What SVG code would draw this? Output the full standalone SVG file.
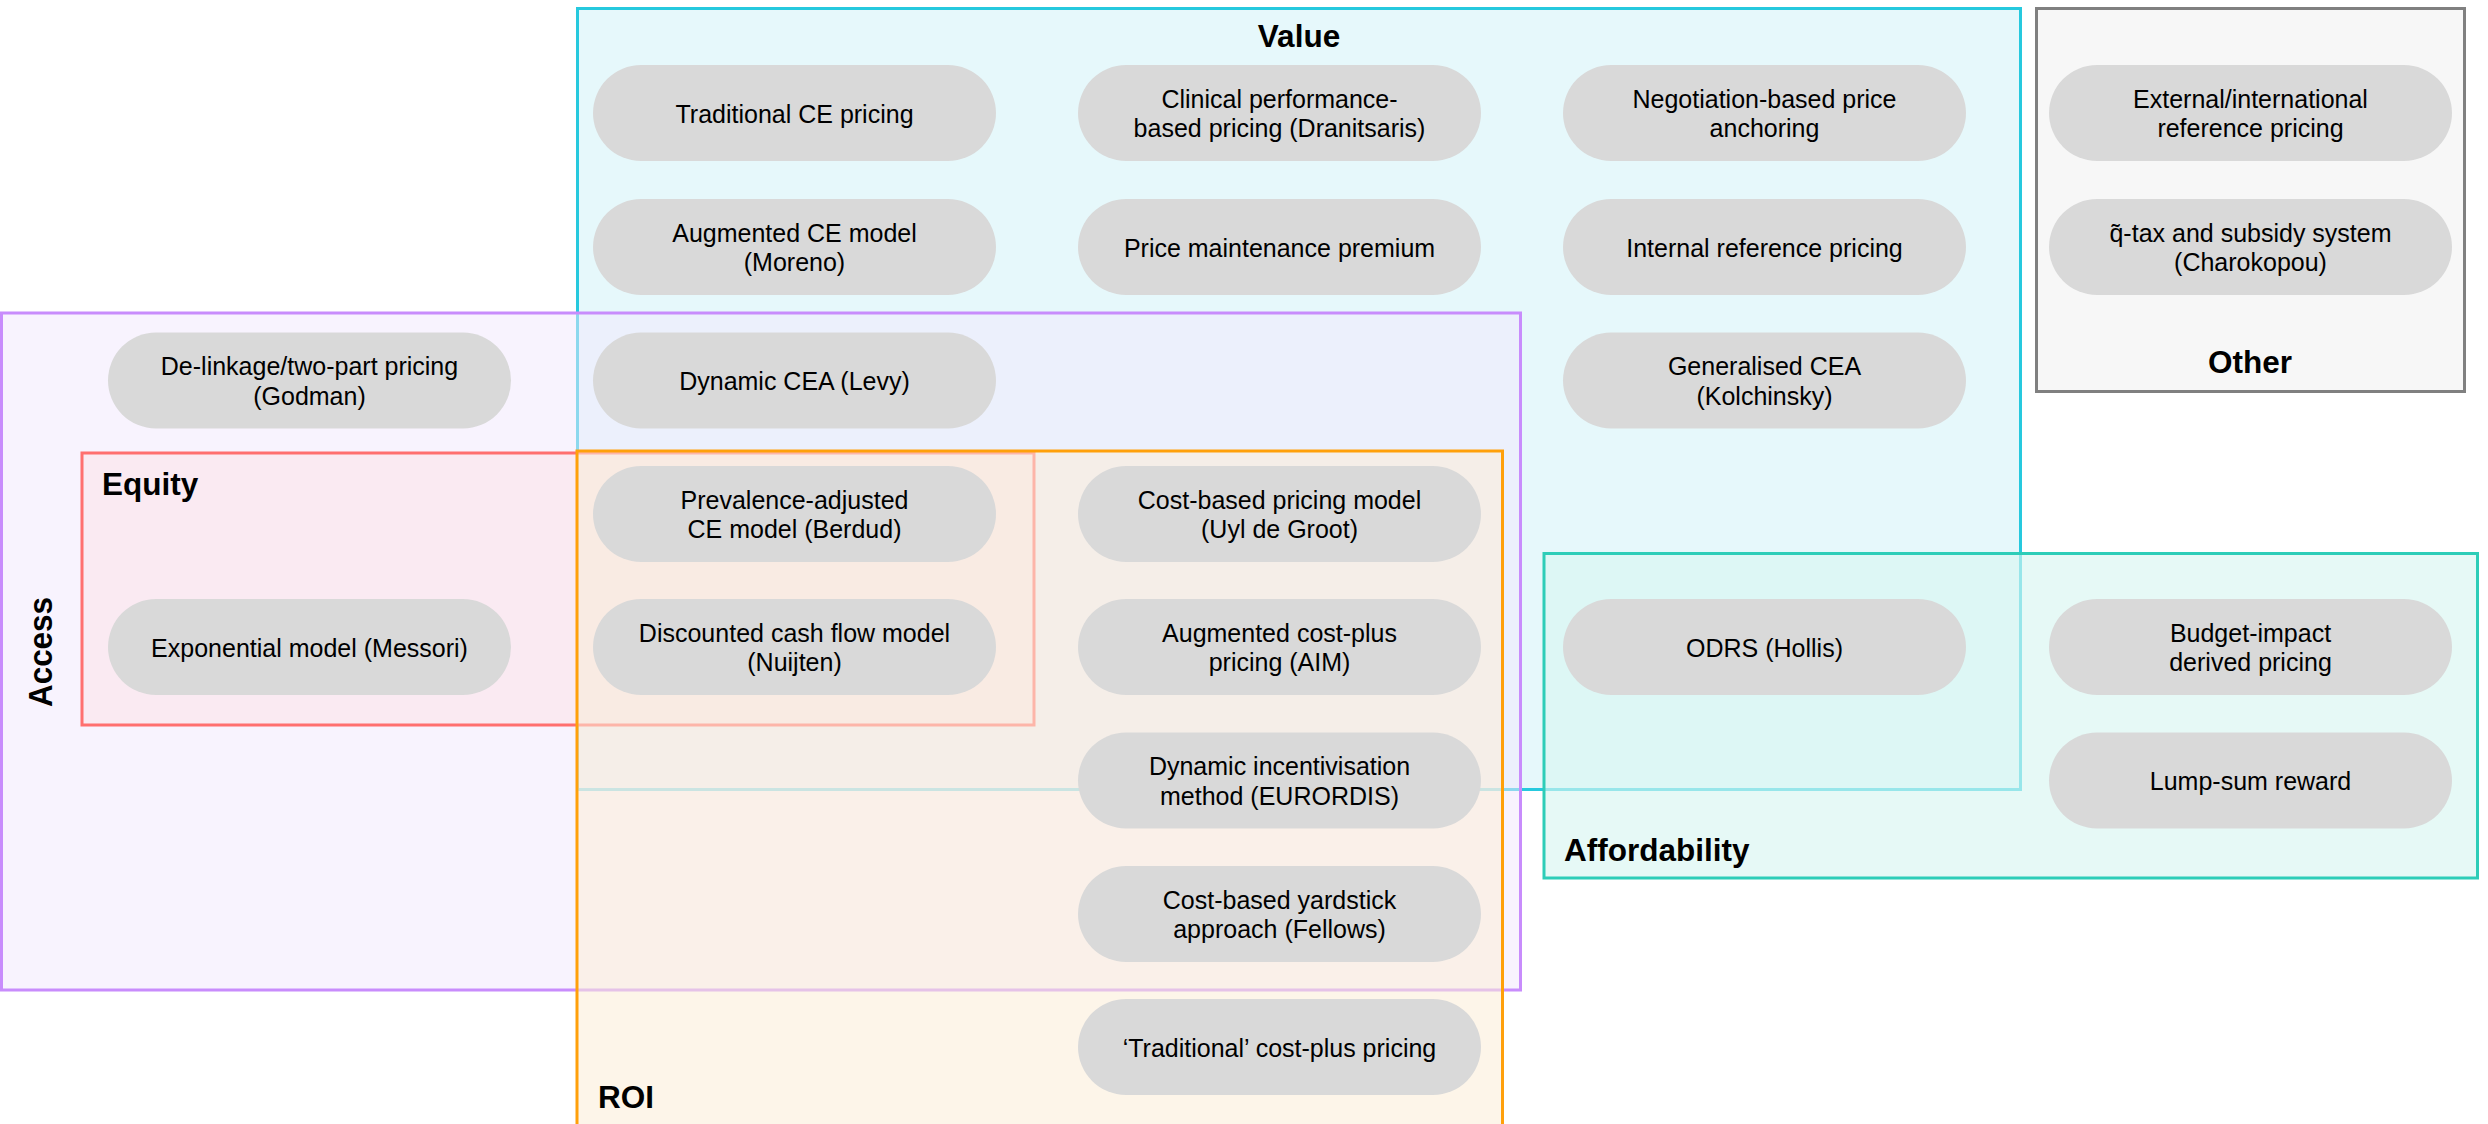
<svg xmlns="http://www.w3.org/2000/svg" width="2488" height="1124" viewBox="0 0 2488 1124">
<style>
.region{stroke-width:3}
.pill rect{fill:#D9D9D9}
.pill text{font-family:"Liberation Sans",Arial,sans-serif;font-size:25px;fill:#000;text-anchor:middle}
.title{font-family:"Liberation Sans",Arial,sans-serif;font-size:31.5px;font-weight:bold;fill:#000}
</style>
<rect x="0" y="0" width="2488" height="1124" fill="#FFFFFF"/>
<g id="regions">
  <g id="region-value">
    <rect class="region" x="577.5" y="8.5" width="1443" height="781" fill="#E6F8FB" stroke="#26C9DE"/>
  </g>
  <g id="region-other">
    <rect class="region" x="2036.5" y="8.5" width="428" height="383" fill="#F7F7F7" stroke="#808080"/>
  </g>
  <g id="region-access">
    <rect class="region" x="1.5" y="313" width="1519" height="677" fill="#F1E7FD" fill-opacity="0.5" stroke="#C88CFC"/>
  </g>
  <g id="region-equity">
    <rect class="region" x="82" y="453" width="952" height="272" fill="#FBE6EC" fill-opacity="0.7" stroke="#FF6F6F"/>
  </g>
  <g id="region-roi">
    <rect class="region" x="577" y="451" width="925.5" height="720" fill="#FCEDD8" fill-opacity="0.56" stroke="#FFA00A"/>
  </g>
  <g id="region-affordability">
    <rect class="region" x="1544" y="553.5" width="933.5" height="324.5" fill="#D8F6F1" fill-opacity="0.64" stroke="#2DCDB8"/>
  </g>
</g>
<g id="labels">
  <text class="title" x="1299" y="47" text-anchor="middle">Value</text>
  <text class="title" x="2250" y="373" text-anchor="middle">Other</text>
  <text class="title" x="102" y="495">Equity</text>
  <text class="title" x="598" y="1108">ROI</text>
  <text class="title" x="1564" y="861">Affordability</text>
  <text class="title" transform="translate(52,652) rotate(-90)" text-anchor="middle" textLength="110" lengthAdjust="spacingAndGlyphs" style="font-size:34px">Access</text>
</g>
<g id="connectors"></g>
<g id="nodes">
  <g id="n-delinkage" class="pill"><rect x="108" y="332.5" width="403" height="96" rx="48"/><text x="309.5" y="375">De-linkage/two-part pricing<tspan x="309.5" y="404.5">(Godman)</tspan></text></g>
  <g id="n-exponential" class="pill"><rect x="108" y="599" width="403" height="96" rx="48"/><text x="309.5" y="656.5">Exponential model (Messori)</text></g>

  <g id="n-traditional-ce" class="pill"><rect x="593" y="65" width="403" height="96" rx="48"/><text x="794.5" y="122.5">Traditional CE pricing</text></g>
  <g id="n-augmented-ce" class="pill"><rect x="593" y="199" width="403" height="96" rx="48"/><text x="794.5" y="241.5">Augmented CE model<tspan x="794.5" y="271">(Moreno)</tspan></text></g>
  <g id="n-dynamic-cea" class="pill"><rect x="593" y="332.5" width="403" height="96" rx="48"/><text x="794.5" y="390">Dynamic CEA (Levy)</text></g>
  <g id="n-prevalence" class="pill"><rect x="593" y="466" width="403" height="96" rx="48"/><text x="794.5" y="508.5">Prevalence-adjusted<tspan x="794.5" y="538">CE model (Berdud)</tspan></text></g>
  <g id="n-dcf" class="pill"><rect x="593" y="599" width="403" height="96" rx="48"/><text x="794.5" y="641.5">Discounted cash flow model<tspan x="794.5" y="671">(Nuijten)</tspan></text></g>

  <g id="n-clinical" class="pill"><rect x="1078" y="65" width="403" height="96" rx="48"/><text x="1279.5" y="107.5">Clinical performance-<tspan x="1279.5" y="137">based pricing (Dranitsaris)</tspan></text></g>
  <g id="n-price-maintenance" class="pill"><rect x="1078" y="199" width="403" height="96" rx="48"/><text x="1279.5" y="256.5">Price maintenance premium</text></g>
  <g id="n-cost-based" class="pill"><rect x="1078" y="466" width="403" height="96" rx="48"/><text x="1279.5" y="508.5">Cost-based pricing model<tspan x="1279.5" y="538">(Uyl de Groot)</tspan></text></g>
  <g id="n-augmented-cost-plus" class="pill"><rect x="1078" y="599" width="403" height="96" rx="48"/><text x="1279.5" y="641.5">Augmented cost-plus<tspan x="1279.5" y="671">pricing (AIM)</tspan></text></g>
  <g id="n-dynamic-incentivisation" class="pill"><rect x="1078" y="732.5" width="403" height="96" rx="48"/><text x="1279.5" y="775">Dynamic incentivisation<tspan x="1279.5" y="804.5">method (EURORDIS)</tspan></text></g>
  <g id="n-yardstick" class="pill"><rect x="1078" y="866" width="403" height="96" rx="48"/><text x="1279.5" y="908.5">Cost-based yardstick<tspan x="1279.5" y="938">approach (Fellows)</tspan></text></g>
  <g id="n-traditional-cost-plus" class="pill"><rect x="1078" y="999" width="403" height="96" rx="48"/><text x="1279.5" y="1056.5">‘Traditional’ cost-plus pricing</text></g>

  <g id="n-negotiation" class="pill"><rect x="1563" y="65" width="403" height="96" rx="48"/><text x="1764.5" y="107.5">Negotiation-based price<tspan x="1764.5" y="137">anchoring</tspan></text></g>
  <g id="n-internal-ref" class="pill"><rect x="1563" y="199" width="403" height="96" rx="48"/><text x="1764.5" y="256.5">Internal reference pricing</text></g>
  <g id="n-generalised-cea" class="pill"><rect x="1563" y="332.5" width="403" height="96" rx="48"/><text x="1764.5" y="375">Generalised CEA<tspan x="1764.5" y="404.5">(Kolchinsky)</tspan></text></g>
  <g id="n-odrs" class="pill"><rect x="1563" y="599" width="403" height="96" rx="48"/><text x="1764.5" y="656.5">ODRS (Hollis)</text></g>

  <g id="n-external-ref" class="pill"><rect x="2049" y="65" width="403" height="96" rx="48"/><text x="2250.5" y="107.5">External/international<tspan x="2250.5" y="137">reference pricing</tspan></text></g>
  <g id="n-qtax" class="pill"><rect x="2049" y="199" width="403" height="96" rx="48"/><text x="2250.5" y="241.5">q&#x303;-tax and subsidy system<tspan x="2250.5" y="271">(Charokopou)</tspan></text></g>
  <g id="n-budget-impact" class="pill"><rect x="2049" y="599" width="403" height="96" rx="48"/><text x="2250.5" y="641.5">Budget-impact<tspan x="2250.5" y="671">derived pricing</tspan></text></g>
  <g id="n-lump-sum" class="pill"><rect x="2049" y="732.5" width="403" height="96" rx="48"/><text x="2250.5" y="790">Lump-sum reward</text></g>
</g>
</svg>
